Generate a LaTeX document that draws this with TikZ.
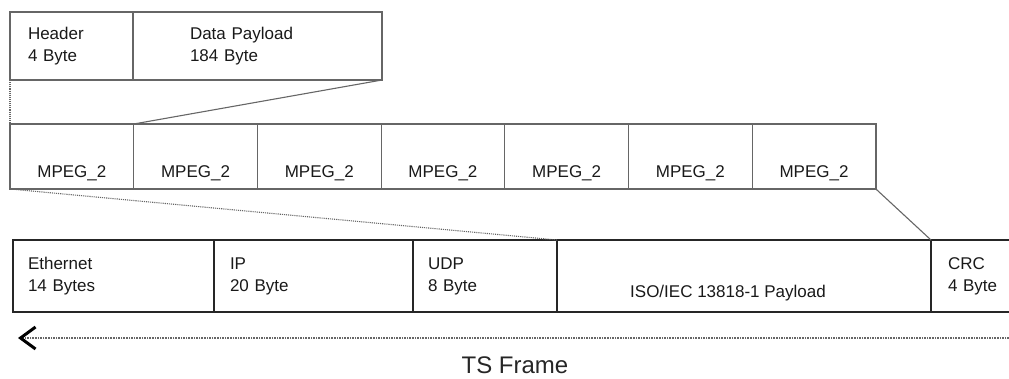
\documentclass[tikz,border=0pt]{standalone}
\usepackage{fontspec}
\setmainfont{Liberation Sans}
\usetikzlibrary{arrows.meta}

\begin{document}
\begin{tikzpicture}[x=1pt,y=-1pt,>=Stealth,
  font=\fontsize{17}{22}\selectfont,
  cell/.style={draw=black!60,line width=1.2pt,rectangle,outer sep=0pt,
    inner sep=0pt,anchor=north west,text=black!90},
  tsp/.style={cell,minimum height=68pt,align=left},
  mpeg/.style={cell,minimum width=123.7pt,minimum height=65pt,
    text height=44pt,text depth=3pt},
  fld/.style={cell,draw=black!85,line width=1.6pt,minimum height=72pt,align=left},
  link/.style={black!60,line width=1.1pt}]
	\useasboundingbox (0,0) rectangle (1009,378);
	
	% TS packet
	\node[tsp,minimum width=123pt,text width=87pt,inner xsep=18pt] (hdr) at (10,12) {Header\\4 Byte};
	\node[tsp,minimum width=249pt,text width=135pt,inner xsep=57pt] (pay) at (hdr.north east) {Data Payload\\184 Byte};
	
	% seven packets
	\foreach \i in {1,...,7}
	\node[mpeg] (m\i) at ({10+(\i-1)*123.7},124) {MPEG\_2};
	
	% frame
	\node[fld,minimum width=201pt,text width=171pt,inner xsep=15pt] (eth) at (13,240) {Ethernet\\14 Bytes};
	\node[fld,minimum width=199pt,text width=167pt,inner xsep=16pt] (ip) at (eth.north east) {IP\\20 Byte};
	\node[fld,minimum width=144pt,text width=114pt,inner xsep=15pt] (udp) at (ip.north east) {UDP\\8 Byte};
	\node[fld,minimum width=374pt,text height=45pt,text depth=3pt,align=center] (iso) at (udp.north east) {ISO/IEC 13818-1 Payload\hspace{32pt}};
	\node[fld,minimum width=110pt,text width=76pt,inner xsep=17pt] (crc) at (iso.north east) {CRC\\4 Byte};
	
	\draw[link,densely dotted] (hdr.south west) -- (m1.north west);
	\draw[link] (pay.south east) -- (m2.north west);
	\draw[link,densely dotted] (m1.south west) -- (iso.north west);
	\draw[link] (m7.south east) -- (crc.north west);
	
	\coordinate (tsR) at (1009,338);
	\coordinate (tsL) at (18,338);
	\draw[black!60,line width=1.6pt,densely dotted,
	  -{Straight Barb[color=black,length=15pt,width=22pt,line width=3pt]}] (tsR) -- (tsL);
	\node[font=\fontsize{24}{27}\selectfont,text=black!85,anchor=base,inner sep=1pt] (ts) at (515,373) {TS Frame};
\end{tikzpicture}
\end{document}
